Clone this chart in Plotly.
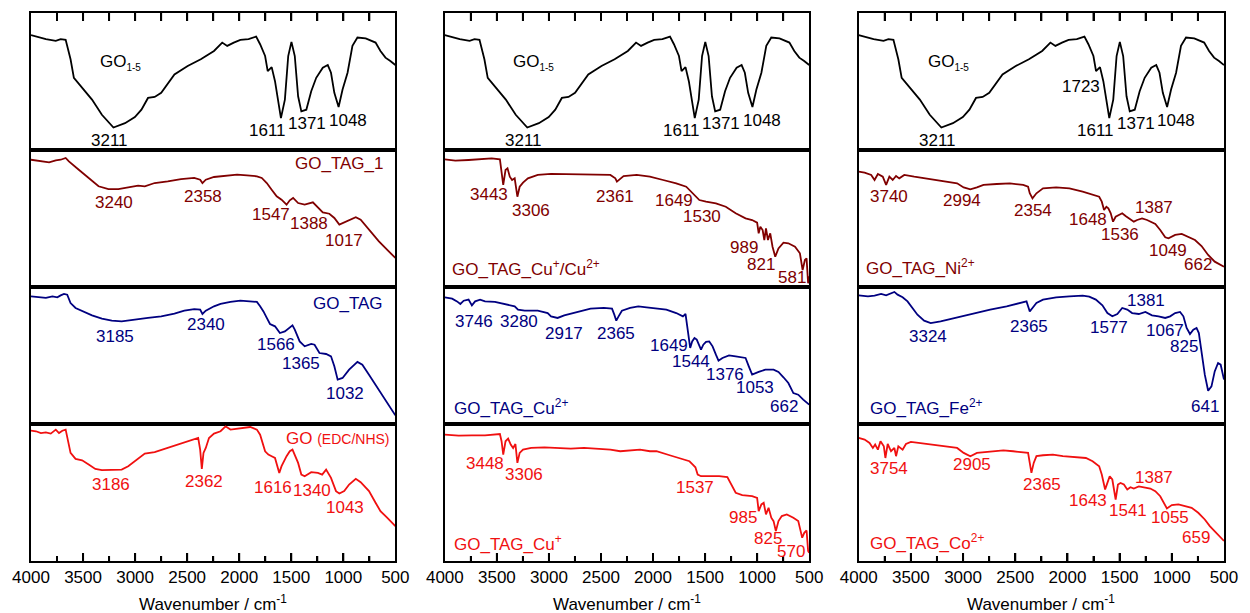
import plotly.graph_objects as go

# ---------------- data (wavenumber / cm-1, transmittance a.u.) ----------------
wn_go15 = [4000, 3857, 3762, 3715, 3667, 3620, 3588, 3509, 3414, 3319, 3208, 3097, 3002, 2939, 2876, 2812,
           2749, 2622, 2495, 2369, 2321, 2242, 2163, 2115, 2052, 1989, 1910, 1837, 1799, 1751, 1726, 1688,
           1656, 1624, 1599, 1561, 1529, 1498, 1466, 1434, 1403, 1355, 1308, 1260, 1197, 1149, 1118, 1086,
           1045, 1007, 959, 912, 864, 785, 690, 643, 595, 548, 500]
t_go15 = [83.8, 80.9, 79.7, 80.9, 80.4, 66.2, 52.7, 45.3, 36.8, 25.7, 16.4, 19.6, 24.0, 29.4, 38.0, 38.7,
          41.7, 55.1, 61.3, 66.2, 68.6, 72.3, 78.4, 76.0, 78.4, 80.4, 80.9, 82.8, 77.2, 68.6, 57.6, 60.5,
          50.2, 34.3, 23.3, 36.8, 68.6, 78.9, 68.6, 39.2, 28.2, 29.4, 42.9, 52.7, 60.0, 62.0, 56.4, 41.7,
          31.4, 44.1, 56.4, 76.0, 82.1, 81.4, 78.4, 72.3, 67.4, 65.0, 62.0]

wn_tag1 = [4000, 3889, 3826, 3762, 3715, 3667, 3636, 3541, 3446, 3351, 3256, 3161, 3066, 2971, 2907, 2812,
           2686, 2559, 2432, 2375, 2353, 2321, 2242, 2115, 2020, 1925, 1830, 1783, 1735, 1688, 1640, 1593,
           1545, 1514, 1482, 1434, 1371, 1292, 1244, 1197, 1134, 1086, 1038, 975, 880, 833, 753, 658, 563, 500]
t_tag1 = [92.9, 91.7, 91.0, 92.5, 92.9, 94.2, 91.7, 85.6, 79.6, 73.5, 71.5, 71.5, 72.7, 74.0, 73.5, 75.9,
          77.1, 78.8, 79.6, 78.3, 75.9, 78.3, 80.3, 81.5, 82.0, 81.5, 80.8, 79.6, 75.9, 71.0, 66.2, 63.7,
          60.1, 63.3, 65.0, 61.3, 60.1, 61.8, 57.7, 54.5, 53.5, 50.4, 45.5, 47.9, 50.9, 49.1, 41.8, 33.3,
          26.0, 21.2]

wn_tag = [4000, 3921, 3857, 3794, 3747, 3715, 3683, 3652, 3620, 3572, 3493, 3414, 3319, 3224, 3129, 3002,
          2876, 2749, 2622, 2527, 2432, 2375, 2353, 2321, 2242, 2179, 2084, 1989, 1894, 1830, 1799, 1767,
          1735, 1704, 1656, 1609, 1561, 1514, 1488, 1466, 1419, 1371, 1308, 1276, 1229, 1165, 1118, 1086,
          1054, 1007, 944, 864, 817, 753, 658, 579, 500]
t_tag = [93.2, 92.5, 92.0, 93.2, 92.5, 93.9, 94.9, 94.4, 88.3, 84.7, 82.2, 79.3, 76.9, 75.4, 74.9, 75.9,
         77.4, 78.6, 80.5, 82.7, 83.9, 83.5, 80.3, 82.7, 85.9, 87.6, 89.1, 90.0, 89.5, 89.1, 85.9, 82.2,
         77.4, 73.0, 71.3, 66.4, 67.6, 70.6, 72.0, 68.9, 60.3, 56.7, 58.4, 57.9, 51.8, 51.1, 49.4, 42.1,
         32.4, 33.6, 39.7, 45.3, 43.3, 36.0, 25.1, 15.3, 6.3]

wn_edc = [4000, 3952, 3905, 3857, 3810, 3762, 3731, 3699, 3667, 3652, 3620, 3572, 3509, 3446, 3382, 3319,
          3224, 3129, 3066, 3002, 2907, 2812, 2686, 2559, 2432, 2394, 2375, 2359, 2343, 2321, 2290, 2242,
          2179, 2131, 2084, 1989, 1894, 1830, 1799, 1751, 1720, 1688, 1656, 1615, 1593, 1545, 1514, 1488,
          1466, 1434, 1403, 1371, 1308, 1244, 1203, 1165, 1118, 1070, 1038, 991, 944, 880, 833, 753, 690,
          643, 579, 500]
t_edc = [95.1, 94.7, 93.4, 93.9, 93.0, 95.9, 93.4, 95.1, 95.9, 89.8, 78.9, 74.5, 73.5, 70.4, 67.2, 66.3,
         66.3, 66.7, 69.2, 72.8, 78.4, 79.4, 82.5, 86.2, 89.1, 89.8, 81.3, 67.2, 78.9, 82.5, 89.8, 93.0,
         94.7, 98.3, 95.9, 97.1, 97.8, 95.9, 92.2, 80.1, 77.7, 76.5, 75.2, 64.3, 69.2, 76.5, 80.1, 81.3,
         77.7, 71.6, 63.1, 61.9, 64.8, 64.3, 63.1, 66.7, 60.7, 51.0, 49.3, 51.0, 55.8, 60.0, 57.5, 51.0,
         42.5, 36.4, 31.6, 25.5]

wn_cu12 = [4000, 3899, 3772, 3645, 3550, 3471, 3455, 3439, 3417, 3398, 3376, 3354, 3329, 3303, 3281, 3249,
           3202, 3107, 2980, 2822, 2663, 2537, 2410, 2362, 2347, 2321, 2283, 2157, 2030, 1903, 1777, 1681,
           1650, 1618, 1586, 1555, 1491, 1396, 1301, 1206, 1111, 1048, 1000, 985, 969, 947, 931, 915, 896,
           874, 852, 826, 795, 747, 700, 636, 589, 563, 541, 525, 510, 500]
t_cu12 = [93.2, 92.2, 92.7, 93.2, 93.9, 93.2, 85.4, 74.5, 85.4, 86.6, 80.5, 78.1, 79.3, 65.9, 73.2, 76.2,
          79.3, 81.8, 82.5, 82.2, 81.8, 81.8, 81.8, 79.3, 76.9, 78.6, 81.0, 81.8, 80.5, 78.1, 75.7, 73.2,
          70.8, 68.4, 65.9, 63.5, 62.3, 61.1, 58.6, 53.8, 50.1, 48.9, 47.0, 39.2, 44.0, 41.6, 34.3, 42.8,
          34.3, 39.2, 29.4, 22.1, 28.2, 32.4, 31.9, 29.4, 24.6, 12.4, 19.7, 20.9, 2.7, 8.0]

wn_cu2 = [4000, 3930, 3883, 3851, 3819, 3772, 3740, 3709, 3661, 3614, 3519, 3424, 3329, 3297, 3233, 3107,
          3012, 2980, 2917, 2853, 2758, 2663, 2600, 2473, 2394, 2372, 2353, 2331, 2299, 2220, 2141, 2062,
          1967, 1872, 1777, 1713, 1688, 1675, 1656, 1643, 1624, 1602, 1580, 1555, 1539, 1517, 1491, 1460,
          1428, 1396, 1371, 1333, 1270, 1206, 1111, 1080, 1048, 985, 921, 842, 795, 747, 700, 652, 605,
          557, 500]
t_cu2 = [92.5, 91.5, 89.5, 87.6, 90.0, 90.8, 86.6, 89.5, 90.8, 89.5, 89.1, 87.6, 85.9, 83.5, 82.7, 82.7,
         81.0, 78.6, 77.4, 79.3, 81.0, 82.7, 84.2, 84.7, 84.2, 79.8, 75.4, 78.6, 82.7, 84.7, 85.9, 85.2,
         84.2, 83.5, 81.0, 78.6, 80.3, 72.5, 62.8, 55.5, 60.3, 62.8, 61.6, 56.7, 54.3, 57.9, 59.9, 60.3,
         56.7, 50.6, 46.2, 48.2, 50.1, 49.4, 48.2, 42.1, 36.0, 38.0, 39.7, 39.7, 38.0, 34.1, 29.9, 22.6,
         21.4, 17.8, 14.1]

wn_cu1 = [4000, 3867, 3740, 3614, 3471, 3455, 3439, 3417, 3392, 3367, 3344, 3322, 3303, 3281, 3249, 3170,
          3043, 2917, 2790, 2663, 2537, 2410, 2315, 2220, 2125, 2030, 1967, 1840, 1713, 1650, 1618, 1593,
          1571, 1539, 1460, 1365, 1286, 1254, 1206, 1143, 1048, 1000, 985, 959, 937, 915, 890, 864, 842,
          820, 795, 763, 715, 652, 605, 582, 567, 547, 525, 510, 500]
t_cu1 = [92.2, 91.5, 91.7, 91.7, 92.7, 87.4, 77.7, 87.4, 89.3, 85.0, 82.5, 85.4, 71.6, 78.9, 81.3, 82.5,
         83.0, 82.5, 82.0, 82.5, 82.0, 81.3, 80.1, 80.8, 81.3, 80.1, 80.1, 77.2, 74.0, 72.8, 70.4, 68.4,
         63.1, 61.9, 61.9, 61.9, 61.2, 57.0, 49.8, 48.1, 47.3, 46.1, 36.4, 41.3, 42.5, 34.0, 38.8, 31.6,
         29.1, 21.8, 29.1, 32.8, 34.0, 31.6, 29.1, 21.8, 17.0, 20.6, 22.3, 7.3, 6.1]

wn_ni = [4000, 3943, 3880, 3848, 3816, 3769, 3737, 3706, 3674, 3642, 3611, 3563, 3468, 3373, 3278, 3184,
         3057, 2994, 2930, 2867, 2804, 2677, 2551, 2424, 2377, 2361, 2335, 2297, 2234, 2108, 1981, 1854,
         1759, 1696, 1671, 1649, 1627, 1608, 1585, 1563, 1538, 1506, 1475, 1443, 1411, 1364, 1332, 1285,
         1237, 1158, 1111, 1063, 1032, 968, 905, 842, 778, 715, 652, 589, 500]
t_ni = [84.2, 83.5, 81.8, 78.1, 82.5, 80.5, 74.5, 80.5, 78.1, 81.0, 79.3, 81.8, 80.5, 79.3, 78.1, 76.9,
        75.7, 72.7, 71.3, 72.7, 74.5, 75.2, 75.7, 74.5, 73.2, 68.4, 64.7, 68.4, 72.0, 72.7, 72.0, 69.6,
        67.2, 65.9, 62.3, 56.2, 58.6, 57.4, 53.8, 47.7, 51.3, 52.6, 53.8, 51.8, 50.1, 47.7, 48.9, 50.1,
        48.9, 46.0, 41.6, 36.3, 35.5, 38.0, 38.7, 36.7, 34.3, 29.9, 23.4, 18.5, 14.8]

wn_fe = [4000, 3911, 3848, 3785, 3737, 3690, 3658, 3627, 3579, 3532, 3484, 3437, 3373, 3310, 3215, 3057,
         2899, 2740, 2582, 2456, 2392, 2377, 2361, 2335, 2297, 2234, 2108, 1981, 1854, 1791, 1728, 1665,
         1617, 1570, 1522, 1475, 1427, 1380, 1316, 1253, 1190, 1127, 1063, 1016, 968, 921, 889, 858, 826,
         794, 763, 741, 715, 684, 652, 620, 589, 557, 532, 500]
t_fe = [93.9, 93.2, 93.7, 94.9, 93.9, 95.6, 96.4, 94.4, 92.5, 89.5, 84.7, 79.8, 75.4, 73.7, 74.9, 77.9,
        81.0, 83.5, 85.9, 88.3, 89.5, 85.9, 82.2, 84.7, 88.3, 90.8, 92.5, 93.2, 93.7, 92.9, 90.8, 86.6,
        81.0, 78.6, 80.3, 84.7, 83.5, 81.0, 80.3, 81.8, 79.3, 78.6, 77.4, 78.6, 81.0, 81.8, 78.6, 70.1,
        65.7, 68.9, 70.1, 66.4, 53.0, 36.0, 24.3, 27.5, 38.4, 44.5, 43.3, 32.4]

wn_co = [4000, 3943, 3896, 3864, 3842, 3816, 3791, 3759, 3744, 3722, 3690, 3658, 3642, 3620, 3579, 3547,
         3500, 3437, 3310, 3184, 3057, 2994, 2930, 2867, 2740, 2614, 2519, 2424, 2377, 2361, 2345, 2323,
         2297, 2234, 2139, 2044, 1918, 1823, 1759, 1696, 1671, 1659, 1639, 1617, 1595, 1570, 1551, 1538,
         1516, 1491, 1459, 1427, 1396, 1364, 1316, 1253, 1206, 1158, 1111, 1047, 1000, 937, 873, 810, 747,
         684, 636, 573, 500]
t_co = [89.8, 88.6, 86.2, 82.5, 85.0, 81.3, 87.4, 83.7, 75.2, 85.4, 80.1, 82.5, 76.5, 83.7, 81.3, 85.4,
        86.9, 86.2, 85.0, 83.7, 82.5, 78.9, 76.5, 78.9, 80.1, 80.8, 80.1, 79.6, 78.9, 71.6, 64.3, 71.6,
        76.5, 77.2, 77.7, 76.5, 75.7, 75.2, 72.8, 69.2, 63.1, 58.3, 52.2, 57.0, 61.9, 59.5, 52.2, 44.9,
        55.8, 57.0, 55.8, 52.2, 53.9, 52.9, 54.4, 53.4, 52.9, 51.0, 47.3, 38.3, 40.8, 41.3, 40.0, 38.8,
        35.2, 30.3, 25.5, 20.6, 14.6]

# axis tick positions (wavenumber)
tick_major = [4000, 3500, 3000, 2500, 2000, 1500, 1000, 500]
tick_minor = [3750, 3250, 2750, 2250, 1750, 1250, 750]

# peak labels: (text, wavenumber, transmittance position)
lab_go15 = [("GO<sub><span style='font-size:10px'>1-5</span></sub>", 3144, 64.2), ("3211", 3249, 7.3),
            ("1611", 1727, 13.9), ("1371", 1346, 19.0), ("1048", 956, 21.2)]
lab_go15_c3 = lab_go15 + [("1723", 1870, 46.7)]
lab_tag1 = [("3240", 3201, 62.0), ("2358", 2345, 66.4), ("1547", 1698, 52.6),
            ("1388", 1327, 46.7), ("1017", 995, 33.6)]
lab_tag = [("3185", 3192, 64.2), ("2340", 2317, 72.3), ("1566", 1651, 57.7),
           ("1365", 1403, 44.5), ("1032", 985, 22.6)]
lab_edc = [("3186", 3230, 56.2), ("2362", 2336, 57.7), ("1616", 1679, 54.0),
           ("1340", 1299, 51.8), ("1043", 985, 38.7)]
lab_cu12 = [("3443", 3572, 67.2), ("3306", 3173, 56.2), ("2361", 2364, 66.4), ("1649", 1803, 62.8),
            ("1530", 1527, 51.8), ("989", 1128, 28.5), ("821", 966, 16.1), ("581", 662, 6.6)]
lab_cu2 = [("3746", 3724, 74.5), ("3280", 3287, 74.5), ("2917", 2859, 66.4), ("2365", 2355, 66.4),
           ("1649", 1851, 57.0), ("1544", 1631, 45.5), ("1376", 1308, 36.5), ("1053", 1023, 26.3),
           ("662", 738, 13.1)]
lab_cu1 = [("3448", 3610, 71.5), ("3306", 3239, 62.8), ("1537", 1594, 53.3), ("985", 1137, 32.1),
           ("825", 899, 16.1), ("570", 671, 6.6)]
lab_ni = [("3740", 3705, 66.4), ("2994", 3011, 63.5), ("2354", 2326, 56.2), ("1648", 1803, 49.6),
          ("1536", 1499, 38.0), ("1387", 1175, 57.7), ("1049", 1033, 26.3), ("662", 747, 16.1)]
lab_fe = [("3324", 3334, 64.2), ("2365", 2364, 71.5), ("1577", 1603, 70.1), ("1381", 1251, 90.5),
          ("1067", 1061, 68.6), ("825", 880, 56.9), ("641", 681, 13.1)]
lab_co = [("3754", 3705, 67.2), ("2905", 2916, 70.1), ("2365", 2240, 55.5), ("1643", 1803, 44.5),
          ("1541", 1423, 37.2), ("1387", 1175, 61.3), ("1055", 1014, 31.4), ("659", 766, 17.5)]

# sample names: (text, wavenumber, transmittance, anchor)
names = {
    (2, 1): ("GO_TAG_1", 586, 89.8, "right"),
    (3, 1): ("GO_TAG", 595, 87.6, "right"),
    (4, 1): ("GO <span style='font-size:14px'>(EDC/NHS)</span>", 528, 89.1, "right"),
    (2, 2): ("GO_TAG_Cu<sup>+</sup>/Cu<sup>2+</sup>", 3952, 13.9, "left"),
    (3, 2): ("GO_TAG_Cu<sup>2+</sup>", 3933, 12.4, "left"),
    (4, 2): ("GO_TAG_Cu<sup>+</sup>", 3933, 13.1, "left"),
    (2, 3): ("GO_TAG_Ni<sup>2+</sup>", 3952, 14.6, "left"),
    (3, 3): ("GO_TAG_Fe<sup>2+</sup>", 3914, 12.4, "left"),
    (4, 3): ("GO_TAG_Co<sup>2+</sup>", 3914, 13.9, "left"),
}

BLACK, MAROON, NAVY, RED = "#000000", "#800000", "#000080", "#f01010"
panels = {
    (1, 1): (wn_go15, t_go15, BLACK, lab_go15),
    (1, 2): (wn_go15, t_go15, BLACK, lab_go15),
    (1, 3): (wn_go15, t_go15, BLACK, lab_go15_c3),
    (2, 1): (wn_tag1, t_tag1, MAROON, lab_tag1),
    (3, 1): (wn_tag, t_tag, NAVY, lab_tag),
    (4, 1): (wn_edc, t_edc, RED, lab_edc),
    (2, 2): (wn_cu12, t_cu12, MAROON, lab_cu12),
    (3, 2): (wn_cu2, t_cu2, NAVY, lab_cu2),
    (4, 2): (wn_cu1, t_cu1, RED, lab_cu1),
    (2, 3): (wn_ni, t_ni, MAROON, lab_ni),
    (3, 3): (wn_fe, t_fe, NAVY, lab_fe),
    (4, 3): (wn_co, t_co, RED, lab_co),
}

FONT = "Liberation Sans, Arial, sans-serif"
W, H = 1250, 613
ML, MR, MT, MB = 28, 17, 13, 52
PW = W - ML - MR
PANEL_PX = (H - MT - MB) / 4.0
col_dom = [[0, 368 / PW], [418 / PW, 786 / PW], [836 / PW, 1.0]]
row_dom = [[0.75, 1.0], [0.5, 0.75], [0.25, 0.5], [0.0, 0.25]]

fig = go.Figure()
layout = dict(width=W, height=H, margin=dict(l=ML, r=MR, t=MT, b=MB),
              paper_bgcolor="white", plot_bgcolor="white", showlegend=False,
              font=dict(family=FONT, size=17, color="black"))
annotations = []
shapes = []
TICK_LINE = dict(color="black", width=2)


def add_ticks(vals, sfx, top, length_px):
    """Inside tick marks as shapes, x in data units, y in axis-domain units."""
    dy = length_px / PANEL_PX
    for v in vals:
        y0, y1 = (1.0, 1.0 - dy) if top else (0.0, dy)
        shapes.append(dict(type="line", xref="x" + sfx, yref="y" + sfx + " domain",
                           x0=v, x1=v, y0=y0, y1=y1, line=TICK_LINE, layer="above"))


idx = 0
for r in range(1, 5):
    for c in range(1, 4):
        idx += 1
        sfx = "" if idx == 1 else str(idx)
        wn, tt, colr, labs = panels[(r, c)]
        fig.add_trace(go.Scatter(x=wn, y=tt, mode="lines", line=dict(color=colr, width=1.8),
                                 xaxis="x" + sfx, yaxis="y" + sfx))
        if r == 1:
            add_ticks(tick_major[1:-1] + tick_minor, sfx, True, 8)
        elif r == 4:
            add_ticks(tick_major[1:-1], sfx, False, 8)
            add_ticks(tick_minor, sfx, False, 5)
        xa = dict(domain=col_dom[c - 1], range=[4000, 500], anchor="y" + sfx,
                  showline=True, linecolor="black", mirror=True, linewidth=2,
                  showgrid=False, zeroline=False)
        if r == 4:
            xa.update(ticks="inside", ticklen=8, tickwidth=2, tickcolor="black",
                      showticklabels=True, tickmode="linear", tick0=500, dtick=500,
                      tickfont=dict(family=FONT, size=17, color="black"),
                      minor=dict(ticks="inside", ticklen=5, tickwidth=2, tickcolor="black",
                                 dtick=250, tick0=250))
        elif r == 1:
            xa.update(side="top", ticks="inside", ticklen=8, tickwidth=2, tickcolor="black",
                      showticklabels=False, tickmode="linear", tick0=500, dtick=500,
                      minor=dict(ticks="inside", ticklen=8, tickwidth=2, tickcolor="black",
                                 dtick=250, tick0=250))
        else:
            xa.update(ticks="", showticklabels=False)
        ya = dict(domain=row_dom[r - 1], range=[0, 100], anchor="x" + sfx, showline=True,
                  linecolor="black", mirror=True, linewidth=2, showgrid=False, zeroline=False,
                  ticks="", showticklabels=False)
        layout["xaxis" + sfx] = xa
        layout["yaxis" + sfx] = ya
        for (txt, lx, ly) in labs:
            annotations.append(dict(text=txt, x=lx, y=ly, xref="x" + sfx, yref="y" + sfx,
                                    showarrow=False, xanchor="center", yanchor="middle",
                                    font=dict(family=FONT, size=17, color=colr)))
        if (r, c) in names:
            txt, lx, ly, anc = names[(r, c)]
            annotations.append(dict(text=txt, x=lx, y=ly, xref="x" + sfx, yref="y" + sfx,
                                    showarrow=False, xanchor=anc, yanchor="middle",
                                    font=dict(family=FONT, size=17, color=colr)))

for c in range(3):
    d = col_dom[c]
    annotations.append(dict(text="Wavenumber / cm<sup>-1</sup>", x=(d[0] + d[1]) / 2,
                            y=-(603 - (H - MB)) / (H - MT - MB), xref="paper", yref="paper",
                            showarrow=False, xanchor="center", yanchor="middle",
                            font=dict(family=FONT, size=17, color="black")))

layout["annotations"] = annotations
layout["shapes"] = shapes
fig.update_layout(**layout)
fig.write_html("out.html")
